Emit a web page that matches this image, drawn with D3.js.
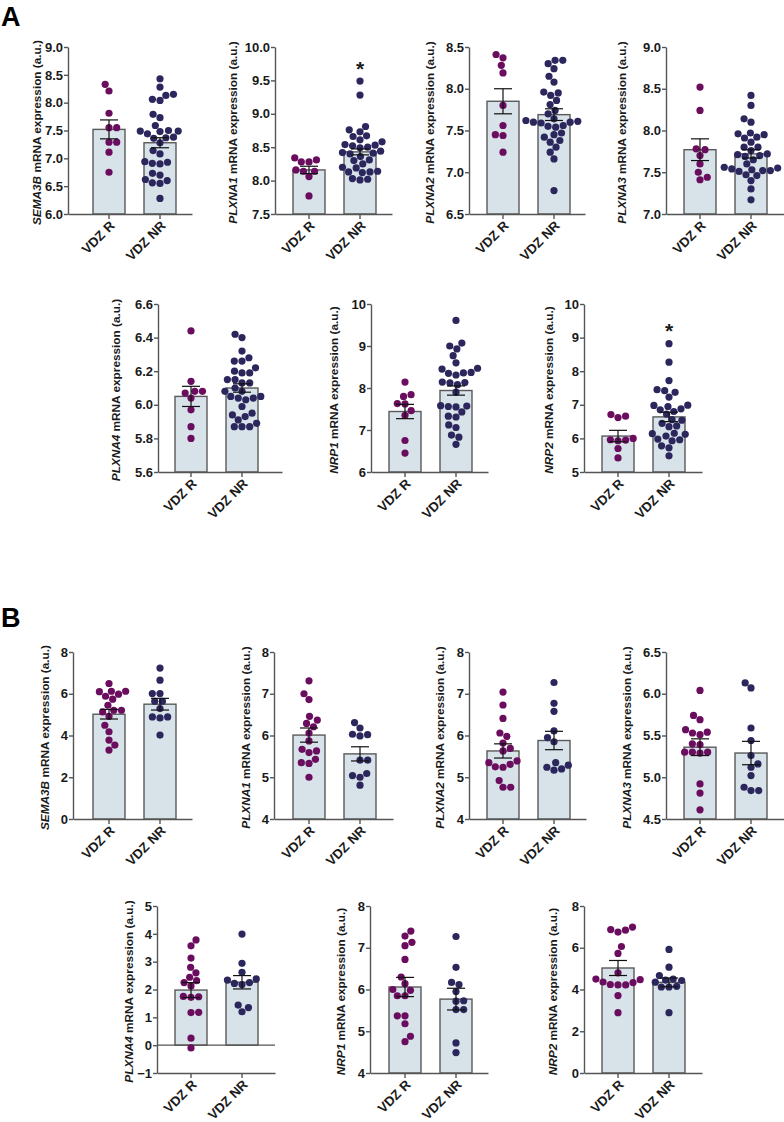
<!DOCTYPE html>
<html><head><meta charset="utf-8">
<script src="https://cdn.jsdelivr.net/npm/d3@7"></script>
<style>
body{margin:0;background:#fff;}
svg{display:block;font-family:"Liberation Sans",Arial,Helvetica,sans-serif;}
</style></head><body>
<svg id="c" width="784" height="1122"></svg>
<script>
// ---------------- DATA ----------------
const groups = ["VDZ R", "VDZ NR"];
const genes = ["SEMA3B", "PLXNA1", "PLXNA2", "PLXNA3", "PLXNA4", "NRP1", "NRP2"];

// Panel A (cohort 1)
const aSEMA3B_R  = [8.33, 8.21, 7.81, 7.55, 7.55, 7.29, 7.29, 7.11, 6.75];
const aSEMA3B_NR = [8.43, 8.28, 8.15, 8.13, 8.06, 8.04, 7.79, 7.73, 7.59, 7.50, 7.49, 7.49, 7.48, 7.44, 7.38, 7.37, 7.36, 7.28, 7.14, 7.08, 6.94, 6.93, 6.91, 6.90, 6.73, 6.70, 6.62, 6.60, 6.56, 6.55, 6.28];
const aPLXNA1_R  = [8.34, 8.31, 8.28, 8.28, 8.16, 8.14, 8.14, 8.06, 7.77];
const aPLXNA1_NR = [9.49, 9.28, 8.81, 8.76, 8.73, 8.67, 8.66, 8.61, 8.58, 8.54, 8.53, 8.52, 8.50, 8.49, 8.44, 8.42, 8.41, 8.40, 8.36, 8.31, 8.30, 8.25, 8.20, 8.19, 8.14, 8.13, 8.13, 8.12, 8.03, 8.02, 8.01];
const aPLXNA2_R  = [8.41, 8.37, 8.28, 8.19, 7.80, 7.56, 7.45, 7.44, 7.24];
const aPLXNA2_NR = [8.34, 8.34, 8.30, 8.24, 8.15, 8.08, 7.96, 7.95, 7.92, 7.86, 7.81, 7.74, 7.70, 7.64, 7.62, 7.61, 7.60, 7.60, 7.59, 7.56, 7.55, 7.54, 7.47, 7.45, 7.42, 7.38, 7.36, 7.30, 7.24, 7.16, 6.78];
const aPLXNA3_R  = [8.52, 8.24, 7.78, 7.77, 7.70, 7.60, 7.50, 7.44, 7.41];
const aPLXNA3_NR = [8.42, 8.30, 8.14, 8.10, 7.97, 7.96, 7.95, 7.92, 7.91, 7.86, 7.80, 7.80, 7.76, 7.72, 7.71, 7.70, 7.69, 7.65, 7.60, 7.56, 7.55, 7.54, 7.53, 7.52, 7.52, 7.51, 7.47, 7.46, 7.40, 7.30, 7.17];
const aPLXNA4_R  = [6.44, 6.14, 6.08, 6.08, 6.07, 6.04, 5.97, 5.87, 5.80];
const aPLXNA4_NR = [6.42, 6.40, 6.32, 6.28, 6.26, 6.26, 6.22, 6.20, 6.19, 6.19, 6.15, 6.15, 6.13, 6.13, 6.10, 6.08, 6.08, 6.05, 6.05, 6.04, 6.04, 6.03, 5.99, 5.95, 5.94, 5.93, 5.91, 5.89, 5.87, 5.87, 5.87];
const aNRP1_R    = [8.14, 7.84, 7.80, 7.63, 7.62, 7.46, 7.35, 6.75, 6.45];
const aNRP1_NR   = [9.61, 9.07, 9.00, 8.93, 8.77, 8.60, 8.47, 8.45, 8.37, 8.36, 8.35, 8.31, 8.14, 8.13, 8.12, 8.08, 7.90, 7.58, 7.57, 7.56, 7.55, 7.43, 7.33, 7.31, 7.12, 7.06, 6.88, 6.83, 6.66];
const aNRP2_R    = [6.71, 6.66, 6.62, 6.00, 5.96, 5.95, 5.93, 5.70, 5.42];
const aNRP2_NR   = [8.82, 8.27, 7.72, 7.45, 7.42, 7.37, 7.23, 6.99, 6.98, 6.95, 6.88, 6.85, 6.80, 6.72, 6.56, 6.54, 6.45, 6.37, 6.35, 6.15, 6.14, 6.12, 6.07, 5.98, 5.96, 5.93, 5.78, 5.72, 5.48];
// bar heights (mean) and SEM per gene: [VDZ R, VDZ NR]
const aMeans = [[7.52, 7.28], [8.16, 8.43], [7.85, 7.69], [7.77, 7.72], [6.05, 6.10], [7.44, 7.94], [6.07, 6.64]];
const aSems  = [[0.17, 0.09], [0.055, 0.045], [0.15, 0.07], [0.13, 0.05], [0.06, 0.025], [0.17, 0.11], [0.17, 0.14]];
const aTicks = [[6.0, 6.5, 7.0, 7.5, 8.0, 8.5, 9.0], [7.5, 8.0, 8.5, 9.0, 9.5, 10.0], [6.5, 7.0, 7.5, 8.0, 8.5], [7.0, 7.5, 8.0, 8.5, 9.0], [5.6, 5.8, 6.0, 6.2, 6.4, 6.6], [6, 7, 8, 9, 10], [5, 6, 7, 8, 9, 10]];
const aTickFmt = [".1f", ".1f", ".1f", ".1f", ".1f", "d", "d"];
// significance marks: [gene index, group, y value]
const aStars = [[1, "VDZ NR", 9.74], [6, "VDZ NR", 9.32]];

// Panel B (cohort 2)
const bSEMA3B_R  = [6.49, 6.12, 6.12, 6.10, 5.98, 5.88, 5.74, 5.45, 5.21, 5.21, 5.13, 4.92, 4.49, 4.18, 3.78, 3.54, 3.30];
const bSEMA3B_NR = [7.23, 6.65, 6.01, 6.01, 5.64, 5.64, 5.29, 4.89, 4.89, 4.84, 4.02];
const bPLXNA1_R  = [7.31, 7.00, 6.86, 6.46, 6.37, 6.29, 6.21, 6.06, 5.87, 5.67, 5.63, 5.59, 5.43, 5.35, 5.33, 5.00];
const bPLXNA1_NR = [6.31, 6.18, 6.03, 6.02, 5.99, 5.41, 5.41, 5.09, 5.04, 5.00, 4.81];
const bPLXNA2_R  = [7.04, 6.73, 6.41, 6.06, 5.98, 5.82, 5.69, 5.63, 5.39, 5.35, 5.31, 5.25, 5.24, 4.92, 4.76, 4.76];
const bPLXNA2_NR = [7.27, 6.77, 6.58, 6.11, 5.95, 5.85, 5.35, 5.29, 5.24, 5.20, 5.17];
const bPLXNA3_R  = [6.04, 5.74, 5.69, 5.57, 5.54, 5.53, 5.51, 5.40, 5.39, 5.30, 5.30, 5.30, 5.29, 4.92, 4.81, 4.61];
const bPLXNA3_NR = [6.13, 6.07, 5.59, 5.44, 5.26, 5.16, 5.12, 5.02, 4.88, 4.84, 4.84];
const bPLXNA4_R  = [3.78, 3.57, 3.13, 2.80, 2.60, 2.44, 2.32, 2.25, 2.13, 1.75, 1.74, 1.72, 1.18, 1.17, 0.25, -0.10];
const bPLXNA4_NR = [3.99, 2.94, 2.62, 2.38, 2.34, 2.25, 2.22, 2.18, 1.44, 1.35, 1.20];
const bNRP1_R    = [7.40, 7.28, 7.13, 7.05, 6.72, 6.30, 6.14, 6.00, 5.98, 5.85, 5.85, 5.37, 5.37, 5.18, 4.88, 4.75];
const bNRP1_NR   = [7.27, 6.53, 6.17, 6.12, 5.95, 5.73, 5.72, 5.52, 5.52, 4.72, 4.49];
const bNRP2_R    = [6.99, 6.87, 6.84, 6.75, 6.06, 5.73, 4.80, 4.50, 4.47, 4.36, 4.33, 4.24, 4.22, 4.22, 3.71, 2.89];
const bNRP2_NR   = [5.92, 5.07, 4.67, 4.50, 4.45, 4.43, 4.35, 4.15, 4.12, 4.12, 2.89];
const bMeans = [[5.02, 5.50], [6.01, 5.56], [5.63, 5.88], [5.36, 5.29], [1.98, 2.26], [6.06, 5.77], [5.03, 4.34]];
const bSems  = [[0.23, 0.28], [0.17, 0.17], [0.17, 0.22], [0.10, 0.14], [0.27, 0.24], [0.23, 0.26], [0.36, 0.21]];
const bTicks = [[0, 2, 4, 6, 8], [4, 5, 6, 7, 8], [4, 5, 6, 7, 8], [4.5, 5.0, 5.5, 6.0, 6.5], [-1, 0, 1, 2, 3, 4, 5], [4, 5, 6, 7, 8], [0, 2, 4, 6, 8]];
const bTickFmt = ["d", "d", "d", ".1f", "d", "d", "d"];

const aValues = [[aSEMA3B_R, aSEMA3B_NR], [aPLXNA1_R, aPLXNA1_NR], [aPLXNA2_R, aPLXNA2_NR], [aPLXNA3_R, aPLXNA3_NR], [aPLXNA4_R, aPLXNA4_NR], [aNRP1_R, aNRP1_NR], [aNRP2_R, aNRP2_NR]];
const bValues = [[bSEMA3B_R, bSEMA3B_NR], [bPLXNA1_R, bPLXNA1_NR], [bPLXNA2_R, bPLXNA2_NR], [bPLXNA3_R, bPLXNA3_NR], [bPLXNA4_R, bPLXNA4_NR], [bNRP1_R, bNRP1_NR], [bNRP2_R, bNRP2_NR]];

// ---------------- LAYOUT ----------------
const layoutA = [
  {x0: 68,  top: 47,  bot: 214, pad: 25, len: 124, tx: 37},
  {x0: 275, top: 47,  bot: 214, pad: 18, len: 117, tx: 233},
  {x0: 469, top: 47,  bot: 214, pad: 18, len: 116, tx: 429.5},
  {x0: 666, top: 47,  bot: 214, pad: 18, len: 118, tx: 622},
  {x0: 158, top: 304, bot: 472, pad: 17, len: 124, tx: 116},
  {x0: 371, top: 304, bot: 472, pad: 18, len: 117, tx: 334},
  {x0: 584, top: 304, bot: 472, pad: 18, len: 118, tx: 549}
];
const layoutB = [
  {x0: 73,  top: 652, bot: 819, pad: 20, len: 119, tx: 45},
  {x0: 274, top: 652, bot: 819, pad: 19, len: 119, tx: 246},
  {x0: 469, top: 652, bot: 819, pad: 18, len: 117, tx: 440},
  {x0: 666, top: 652, bot: 819, pad: 18, len: 118, tx: 627},
  {x0: 157, top: 906, bot: 1073, pad: 18, len: 118, tx: 129},
  {x0: 370, top: 906, bot: 1073, pad: 19, len: 118, tx: 341},
  {x0: 584, top: 906, bot: 1073, pad: 18, len: 118, tx: 553}
];

const COL = {R: "#6b0d5e", NR: "#2b275c", bar: "#d7e2e9", barStroke: "#5a5a5a", axis: "#555", text: "#1a1a1a"};
const R_DOT = 3.6;
const svg = d3.select("#c");

function swarm(vals, y, r) {
  const d = 2 * r + 0.5;
  const pts = vals.map(v => ({v, py: y(v)})).sort((a, b) => b.py - a.py);
  const placed = [];
  let flip = 1;
  pts.forEach(p => {
    const cands = [0];
    placed.forEach(q => {
      const dy = Math.abs(q.py - p.py);
      if (dy < d) { const dx = Math.sqrt(d * d - dy * dy); cands.push(q.x + dx, q.x - dx); }
    });
    cands.sort((a, b) => (Math.abs(a) - Math.abs(b)) || (flip * (a - b)));
    for (const c of cands) {
      if (placed.every(q => (q.x - c) ** 2 + (q.py - p.py) ** 2 >= d * d - 0.05)) { p.x = c; break; }
    }
    flip = -flip;
    placed.push(p);
  });
  return placed;
}

function drawPanel(gi, L, vals, means, sems, ticks, fmt, stars) {
  const g = svg.append("g");
  const y = d3.scaleLinear().domain([ticks[0], ticks[ticks.length - 1]]).range([L.bot, L.top]);
  const pi = 19 / 51;
  const po = (L.len / 51 - 2 + pi) / 2;
  const x = d3.scaleBand().domain(groups).range([L.x0, L.x0 + L.len])
    .paddingInner(pi).paddingOuter(po).align(L.pad / (L.len - 83));
  const base = (ticks[0] < 0 && ticks[ticks.length - 1] > 0) ? 0 : ticks[0];

  // bars
  g.selectAll("rect.bar").data(groups).join("rect")
    .attr("x", d => x(d)).attr("width", x.bandwidth())
    .attr("y", (d, i) => y(means[i])).attr("height", (d, i) => y(base) - y(means[i]))
    .attr("fill", COL.bar).attr("stroke", COL.barStroke).attr("stroke-width", 1.4);

  // zero line when axis crosses
  if (base !== ticks[0]) {
    g.append("line").attr("x1", L.x0).attr("x2", L.x0 + L.len).attr("y1", y(0)).attr("y2", y(0))
      .attr("stroke", COL.axis).attr("stroke-width", 1.4);
  }

  // dots
  groups.forEach((grp, i) => {
    const cx = x(grp) + x.bandwidth() / 2;
    const pts = swarm(vals[i], y, R_DOT);
    g.selectAll(null).data(pts).join("circle")
      .attr("cx", d => cx + d.x).attr("cy", d => d.py).attr("r", R_DOT)
      .attr("fill", i === 0 ? COL.R : COL.NR);
  });

  // error bars
  groups.forEach((grp, i) => {
    const cx = x(grp) + x.bandwidth() / 2;
    const hi = y(means[i] + sems[i]), lo = y(means[i] - sems[i]);
    const eg = g.append("g").attr("stroke", "#111").attr("stroke-width", 1.2);
    eg.append("line").attr("x1", cx).attr("x2", cx).attr("y1", hi).attr("y2", lo);
    eg.append("line").attr("x1", cx - 9).attr("x2", cx + 9).attr("y1", hi).attr("y2", hi);
    eg.append("line").attr("x1", cx - 9).attr("x2", cx + 9).attr("y1", lo).attr("y2", lo);
  });

  // axes
  const ya = g.append("g").attr("transform", `translate(${L.x0},0)`)
    .call(d3.axisLeft(y).tickValues(ticks).tickFormat(d3.format(fmt)).tickSize(4).tickSizeOuter(0).tickPadding(1));
  const xa = g.append("g").attr("transform", `translate(0,${L.bot})`)
    .call(d3.axisBottom(x).tickSize(5).tickSizeOuter(0));
  [ya, xa].forEach(a => {
    a.selectAll("path,line").attr("stroke", COL.axis).attr("stroke-width", 1.4);
    a.selectAll("text").attr("fill", COL.text).attr("font-size", 13).attr("font-weight", "bold")
      .attr("font-family", "Liberation Sans, Arial, sans-serif");
  });
  xa.selectAll(".tick text").attr("text-anchor", "end").attr("dy", null).attr("y", 0)
    .attr("font-size", 13.3)
    .attr("transform", "translate(4,10) rotate(-45)").attr("dominant-baseline", "middle");

  // y title
  const t = g.append("text").attr("transform", `translate(${L.tx},${(L.top + L.bot) / 2 + 2}) rotate(-90)`)
    .attr("text-anchor", "middle").attr("dominant-baseline", "central")
    .attr("font-size", 11.8).attr("font-weight", "bold").attr("fill", COL.text);
  t.append("tspan").attr("font-style", "italic").text(genes[gi]);
  t.append("tspan").text(" mRNA expression (a.u.)");

  // significance
  stars.filter(s => s[0] === gi).forEach(s => {
    g.append("text").attr("x", x(s[1]) + x.bandwidth() / 2).attr("y", y(s[2]))
      .attr("text-anchor", "middle").attr("dy", "0.55em").attr("font-size", 21).attr("font-weight", "bold")
      .attr("fill", COL.text).text("*");
  });
}

genes.forEach((gn, i) => drawPanel(i, layoutA[i], aValues[i], aMeans[i], aSems[i], aTicks[i], aTickFmt[i], aStars));
genes.forEach((gn, i) => drawPanel(i, layoutB[i], bValues[i], bMeans[i], bSems[i], bTicks[i], bTickFmt[i], []));

svg.append("text").attr("x", 1).attr("y", 26).attr("font-size", 27).attr("font-weight", "bold").attr("fill", "#000").text("A");
svg.append("text").attr("x", 1).attr("y", 627).attr("font-size", 27).attr("font-weight", "bold").attr("fill", "#000").text("B");
</script>
</body></html>
